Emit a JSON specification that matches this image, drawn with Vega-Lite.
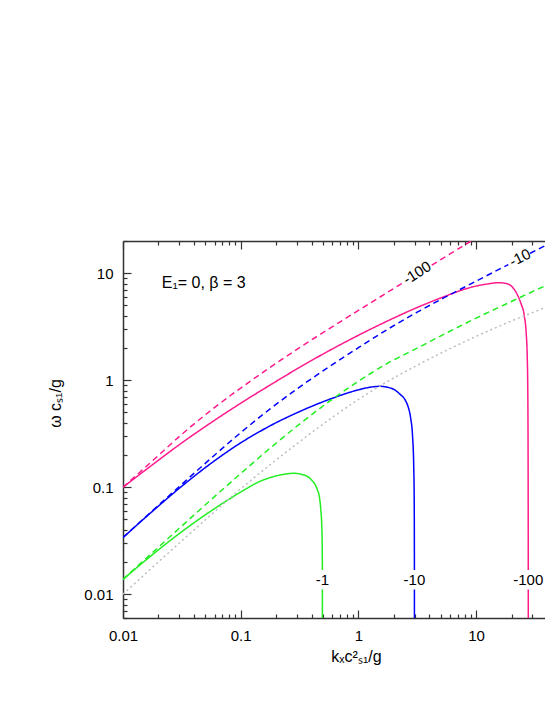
{
  "$schema": "https://vega.github.io/schema/vega-lite/v6.json",
  "autosize": {"type": "none"},
  "padding": {"left": 123, "top": 241, "right": 0, "bottom": 87},
  "width": 422,
  "height": 377,
  "background": "white",
  "config": {
    "view": {"stroke": null},
    "font": "Liberation Sans",
    "axis": {
      "domainColor": "#333333",
      "domainWidth": 1.5,
      "tickColor": "#333333",
      "tickWidth": 1.2,
      "labelFont": "Liberation Sans",
      "labelFontSize": 15,
      "labelColor": "#000000",
      "titleFont": "Liberation Sans",
      "titleFontWeight": "normal",
      "titleFontSize": 16,
      "titleColor": "#000000",
      "grid": false
    }
  },
  "datasets": {
    "curves": [
      {"E": "-100", "kind": "dashed", "part": 1, "k": 0.01, "w": 0.1},
      {"E": "-100", "kind": "dashed", "part": 1, "k": 0.01778, "w": 0.1762},
      {"E": "-100", "kind": "dashed", "part": 1, "k": 0.03162, "w": 0.3126},
      {"E": "-100", "kind": "dashed", "part": 1, "k": 0.05623, "w": 0.526},
      {"E": "-100", "kind": "dashed", "part": 1, "k": 0.1, "w": 0.8453},
      {"E": "-100", "kind": "dashed", "part": 1, "k": 0.1778, "w": 1.318},
      {"E": "-100", "kind": "dashed", "part": 1, "k": 0.3162, "w": 2.014},
      {"E": "-100", "kind": "dashed", "part": 1, "k": 0.5623, "w": 3.02},
      {"E": "-100", "kind": "dashed", "part": 1, "k": 1, "w": 4.487},
      {"E": "-100", "kind": "dashed", "part": 1, "k": 1.778, "w": 6.653},
      {"E": "-100", "kind": "dashed", "part": 1, "k": 2.41, "w": 8.18},
      {"E": "-100", "kind": "dashed", "part": 2, "k": 4.198, "w": 11.89},
      {"E": "-100", "kind": "dashed", "part": 2, "k": 6.31, "w": 15.67},
      {"E": "-100", "kind": "dashed", "part": 2, "k": 10, "w": 21.33},

      {"E": "-100", "kind": "solid", "part": 1, "k": 0.01, "w": 0.1},
      {"E": "-100", "kind": "solid", "part": 1, "k": 0.01778, "w": 0.1622},
      {"E": "-100", "kind": "solid", "part": 1, "k": 0.03162, "w": 0.26},
      {"E": "-100", "kind": "solid", "part": 1, "k": 0.05623, "w": 0.4027},
      {"E": "-100", "kind": "solid", "part": 1, "k": 0.1, "w": 0.6095},
      {"E": "-100", "kind": "solid", "part": 1, "k": 0.1778, "w": 0.9016},
      {"E": "-100", "kind": "solid", "part": 1, "k": 0.3162, "w": 1.318},
      {"E": "-100", "kind": "solid", "part": 1, "k": 0.5623, "w": 1.884},
      {"E": "-100", "kind": "solid", "part": 1, "k": 1, "w": 2.63},
      {"E": "-100", "kind": "solid", "part": 1, "k": 1.778, "w": 3.589},
      {"E": "-100", "kind": "solid", "part": 1, "k": 3.162, "w": 4.786},
      {"E": "-100", "kind": "solid", "part": 1, "k": 5.623, "w": 6.166},
      {"E": "-100", "kind": "solid", "part": 1, "k": 7.943, "w": 7.079},
      {"E": "-100", "kind": "solid", "part": 1, "k": 10, "w": 7.586},
      {"E": "-100", "kind": "solid", "part": 1, "k": 12.59, "w": 7.943},
      {"E": "-100", "kind": "solid", "part": 1, "k": 15.45, "w": 8.166},
      {"E": "-100", "kind": "solid", "part": 1, "k": 17.78, "w": 8.035},
      {"E": "-100", "kind": "solid", "part": 1, "k": 19.95, "w": 7.586},
      {"E": "-100", "kind": "solid", "part": 1, "k": 22.39, "w": 6.31},
      {"E": "-100", "kind": "solid", "part": 1, "k": 23.99, "w": 5.248},
      {"E": "-100", "kind": "solid", "part": 1, "k": 25.7, "w": 3.981},
      {"E": "-100", "kind": "solid", "part": 1, "k": 26.61, "w": 2.818},
      {"E": "-100", "kind": "solid", "part": 1, "k": 27.23, "w": 1.585},
      {"E": "-100", "kind": "solid", "part": 1, "k": 27.54, "w": 0.631},
      {"E": "-100", "kind": "solid", "part": 1, "k": 27.67, "w": 0.1585},
      {"E": "-100", "kind": "solid", "part": 1, "k": 27.73, "w": 0.0398},
      {"E": "-100", "kind": "solid", "part": 1, "k": 27.76, "w": 0.01683},
      {"E": "-100", "kind": "solid", "part": 2, "k": 27.76, "w": 0.0111},
      {"E": "-100", "kind": "solid", "part": 2, "k": 27.77, "w": 0.005},

      {"E": "-10", "kind": "dashed", "part": 1, "k": 0.01, "w": 0.03388},
      {"E": "-10", "kind": "dashed", "part": 1, "k": 0.01778, "w": 0.06026},
      {"E": "-10", "kind": "dashed", "part": 1, "k": 0.03162, "w": 0.1067},
      {"E": "-10", "kind": "dashed", "part": 1, "k": 0.05623, "w": 0.1875},
      {"E": "-10", "kind": "dashed", "part": 1, "k": 0.1, "w": 0.3236},
      {"E": "-10", "kind": "dashed", "part": 1, "k": 0.1778, "w": 0.5395},
      {"E": "-10", "kind": "dashed", "part": 1, "k": 0.3162, "w": 0.863},
      {"E": "-10", "kind": "dashed", "part": 1, "k": 0.5623, "w": 1.334},
      {"E": "-10", "kind": "dashed", "part": 1, "k": 1, "w": 2.014},
      {"E": "-10", "kind": "dashed", "part": 1, "k": 1.778, "w": 2.996},
      {"E": "-10", "kind": "dashed", "part": 1, "k": 3.162, "w": 4.325},
      {"E": "-10", "kind": "dashed", "part": 1, "k": 5.623, "w": 6.075},
      {"E": "-10", "kind": "dashed", "part": 1, "k": 10, "w": 8.433},
      {"E": "-10", "kind": "dashed", "part": 1, "k": 18.79, "w": 12.05},
      {"E": "-10", "kind": "dashed", "part": 2, "k": 28.71, "w": 15.31},
      {"E": "-10", "kind": "dashed", "part": 2, "k": 38.46, "w": 18.07},
      {"E": "-10", "kind": "dashed", "part": 2, "k": 44.67, "w": 19.68},

      {"E": "-10", "kind": "solid", "part": 1, "k": 0.01, "w": 0.03388},
      {"E": "-10", "kind": "solid", "part": 1, "k": 0.01778, "w": 0.05957},
      {"E": "-10", "kind": "solid", "part": 1, "k": 0.03162, "w": 0.1023},
      {"E": "-10", "kind": "solid", "part": 1, "k": 0.05623, "w": 0.1679},
      {"E": "-10", "kind": "solid", "part": 1, "k": 0.1, "w": 0.26},
      {"E": "-10", "kind": "solid", "part": 1, "k": 0.1459, "w": 0.3327},
      {"E": "-10", "kind": "solid", "part": 1, "k": 0.1778, "w": 0.375},
      {"E": "-10", "kind": "solid", "part": 1, "k": 0.3162, "w": 0.5093},
      {"E": "-10", "kind": "solid", "part": 1, "k": 0.5623, "w": 0.6607},
      {"E": "-10", "kind": "solid", "part": 1, "k": 1, "w": 0.8128},
      {"E": "-10", "kind": "solid", "part": 1, "k": 1.259, "w": 0.861},
      {"E": "-10", "kind": "solid", "part": 1, "k": 1.514, "w": 0.877},
      {"E": "-10", "kind": "solid", "part": 1, "k": 1.778, "w": 0.859},
      {"E": "-10", "kind": "solid", "part": 1, "k": 1.995, "w": 0.822},
      {"E": "-10", "kind": "solid", "part": 1, "k": 2.254, "w": 0.741},
      {"E": "-10", "kind": "solid", "part": 1, "k": 2.512, "w": 0.6457},
      {"E": "-10", "kind": "solid", "part": 1, "k": 2.655, "w": 0.5585},
      {"E": "-10", "kind": "solid", "part": 1, "k": 2.786, "w": 0.4365},
      {"E": "-10", "kind": "solid", "part": 1, "k": 2.884, "w": 0.302},
      {"E": "-10", "kind": "solid", "part": 1, "k": 2.951, "w": 0.1585},
      {"E": "-10", "kind": "solid", "part": 1, "k": 2.979, "w": 0.0794},
      {"E": "-10", "kind": "solid", "part": 1, "k": 2.989, "w": 0.0316},
      {"E": "-10", "kind": "solid", "part": 1, "k": 2.992, "w": 0.01683},
      {"E": "-10", "kind": "solid", "part": 2, "k": 2.992, "w": 0.0111},
      {"E": "-10", "kind": "solid", "part": 2, "k": 2.993, "w": 0.005},

      {"E": "-1", "kind": "dashed", "part": 1, "k": 0.01, "w": 0.01377},
      {"E": "-1", "kind": "dashed", "part": 1, "k": 0.01778, "w": 0.02449},
      {"E": "-1", "kind": "dashed", "part": 1, "k": 0.03162, "w": 0.04345},
      {"E": "-1", "kind": "dashed", "part": 1, "k": 0.05623, "w": 0.07674},
      {"E": "-1", "kind": "dashed", "part": 1, "k": 0.1, "w": 0.1343},
      {"E": "-1", "kind": "dashed", "part": 1, "k": 0.1778, "w": 0.2317},
      {"E": "-1", "kind": "dashed", "part": 1, "k": 0.3162, "w": 0.389},
      {"E": "-1", "kind": "dashed", "part": 1, "k": 0.5623, "w": 0.631},
      {"E": "-1", "kind": "dashed", "part": 1, "k": 1, "w": 0.9772},
      {"E": "-1", "kind": "dashed", "part": 1, "k": 1.778, "w": 1.445},
      {"E": "-1", "kind": "dashed", "part": 1, "k": 3.162, "w": 1.995},
      {"E": "-1", "kind": "dashed", "part": 1, "k": 5.623, "w": 2.77},
      {"E": "-1", "kind": "dashed", "part": 1, "k": 10, "w": 3.802},
      {"E": "-1", "kind": "dashed", "part": 1, "k": 17.78, "w": 5.129},
      {"E": "-1", "kind": "dashed", "part": 1, "k": 38.46, "w": 7.586},
      {"E": "-1", "kind": "dashed", "part": 1, "k": 44.67, "w": 8.128},

      {"E": "-1", "kind": "solid", "part": 1, "k": 0.01, "w": 0.01377},
      {"E": "-1", "kind": "solid", "part": 1, "k": 0.01778, "w": 0.02344},
      {"E": "-1", "kind": "solid", "part": 1, "k": 0.03162, "w": 0.03846},
      {"E": "-1", "kind": "solid", "part": 1, "k": 0.05623, "w": 0.06026},
      {"E": "-1", "kind": "solid", "part": 1, "k": 0.1, "w": 0.09016},
      {"E": "-1", "kind": "solid", "part": 1, "k": 0.1459, "w": 0.1135},
      {"E": "-1", "kind": "solid", "part": 1, "k": 0.1778, "w": 0.123},
      {"E": "-1", "kind": "solid", "part": 1, "k": 0.2239, "w": 0.1312},
      {"E": "-1", "kind": "solid", "part": 1, "k": 0.2818, "w": 0.1349},
      {"E": "-1", "kind": "solid", "part": 1, "k": 0.3548, "w": 0.1288},
      {"E": "-1", "kind": "solid", "part": 1, "k": 0.3981, "w": 0.1175},
      {"E": "-1", "kind": "solid", "part": 1, "k": 0.4467, "w": 0.0955},
      {"E": "-1", "kind": "solid", "part": 1, "k": 0.4677, "w": 0.0794},
      {"E": "-1", "kind": "solid", "part": 1, "k": 0.4786, "w": 0.0631},
      {"E": "-1", "kind": "solid", "part": 1, "k": 0.4898, "w": 0.0398},
      {"E": "-1", "kind": "solid", "part": 1, "k": 0.4932, "w": 0.0251},
      {"E": "-1", "kind": "solid", "part": 1, "k": 0.4943, "w": 0.01683},
      {"E": "-1", "kind": "solid", "part": 2, "k": 0.4943, "w": 0.0111},
      {"E": "-1", "kind": "solid", "part": 2, "k": 0.4945, "w": 0.005},

      {"E": "0", "kind": "dotted", "part": 1, "k": 0.01, "w": 0.01},
      {"E": "0", "kind": "dotted", "part": 1, "k": 0.03162, "w": 0.03162},
      {"E": "0", "kind": "dotted", "part": 1, "k": 0.05623, "w": 0.05559},
      {"E": "0", "kind": "dotted", "part": 1, "k": 0.1, "w": 0.09661},
      {"E": "0", "kind": "dotted", "part": 1, "k": 0.1778, "w": 0.1622},
      {"E": "0", "kind": "dotted", "part": 1, "k": 0.3162, "w": 0.2661},
      {"E": "0", "kind": "dotted", "part": 1, "k": 0.5623, "w": 0.4266},
      {"E": "0", "kind": "dotted", "part": 1, "k": 1, "w": 0.6607},
      {"E": "0", "kind": "dotted", "part": 1, "k": 1.778, "w": 0.9772},
      {"E": "0", "kind": "dotted", "part": 1, "k": 3.162, "w": 1.38},
      {"E": "0", "kind": "dotted", "part": 1, "k": 5.623, "w": 1.905},
      {"E": "0", "kind": "dotted", "part": 1, "k": 10, "w": 2.57},
      {"E": "0", "kind": "dotted", "part": 1, "k": 17.78, "w": 3.388},
      {"E": "0", "kind": "dotted", "part": 1, "k": 38.46, "w": 4.786},
      {"E": "0", "kind": "dotted", "part": 1, "k": 44.67, "w": 5.129}
    ],
    "labels": [
      {"label": "-1", "k": 0.4943, "w": 0.01355},
      {"label": "-10", "k": 2.992, "w": 0.01355},
      {"label": "-100", "k": 27.76, "w": 0.01355}
    ],
    "slope100": [{"label": "-100", "k": 3.15, "w": 10.07}],
    "slope10": [{"label": "-10", "k": 23.6, "w": 14.0}],
    "note": [{"label": "E₁= 0, β = 3", "k": 0.02133, "w": 8.12}]
  },
  "resolve": {"axis": {"x": "independent", "y": "independent"}},
  "layer": [
    {
      "data": {"name": "curves"},
      "mark": {"type": "line", "strokeWidth": 1.5, "clip": true, "interpolate": "monotone"},
      "encoding": {
        "x": {
          "field": "k", "type": "quantitative",
          "scale": {"type": "log", "domain": [0.01, 38.5], "nice": false, "zero": false},
          "axis": {
            "orient": "bottom",
            "values": [0.01,0.02,0.03,0.04,0.05,0.06,0.07,0.08,0.09,0.1,0.2,0.3,0.4,0.5,0.6,0.7,0.8,0.9,1,2,3,4,5,6,7,8,9,10,20,30],
            "labelExpr": "datum.value == 0.01 ? '0.01' : datum.value == 0.1 ? '0.1' : datum.value == 1 ? '1' : datum.value == 10 ? '10' : ''",
            "tickSize": {"condition": {"test": "indexof([0.01,0.1,1,10], datum.value) >= 0", "value": -8}, "value": -4},
            "labelPadding": 18,
            "labelFlush": false,
            "labelOverlap": false,
            "title": "kₓc²ₛ₁/g",
            "titleX": 233,
            "titleY": 43,
            "titleBaseline": "alphabetic"
          }
        },
        "y": {
          "field": "w", "type": "quantitative",
          "scale": {"type": "log", "domain": [0.006, 20], "nice": false, "zero": false},
          "axis": {
            "orient": "left",
            "values": [0.006,0.007,0.008,0.009,0.01,0.02,0.03,0.04,0.05,0.06,0.07,0.08,0.09,0.1,0.2,0.3,0.4,0.5,0.6,0.7,0.8,0.9,1,2,3,4,5,6,7,8,9,10,20],
            "labelExpr": "datum.value == 0.01 ? '0.01' : datum.value == 0.1 ? '0.1' : datum.value == 1 ? '1' : datum.value == 10 ? '10' : ''",
            "tickSize": {"condition": {"test": "indexof([0.01,0.1,1,10], datum.value) >= 0", "value": -8}, "value": -4},
            "labelPadding": 18,
            "labelFlush": false,
            "labelOverlap": false,
            "title": "ω cₛ₁/g",
            "titleX": -60,
            "titleY": 162,
            "titleAngle": 270,
            "titleAlign": "center",
            "titleBaseline": "bottom"
          }
        },
        "color": {
          "field": "E", "type": "nominal",
          "scale": {"domain": ["-100", "-10", "-1", "0"], "range": ["#ff1a8c", "#0000ff", "#22ee22", "#bdbdbd"]},
          "legend": null
        },
        "strokeDash": {
          "field": "kind", "type": "nominal",
          "scale": {"domain": ["solid", "dashed", "dotted"], "range": [[1, 0], [6, 4], [2, 3]]},
          "legend": null
        },
        "detail": {"field": "part", "type": "nominal"}
      }
    },
    {
      "data": {"name": "labels"},
      "mark": {"type": "text", "fontSize": 15, "align": "center", "baseline": "middle", "color": "#000000"},
      "encoding": {
        "x": {"field": "k", "type": "quantitative", "scale": {"type": "log", "domain": [0.01, 38.5], "nice": false, "zero": false}, "axis": null},
        "y": {"field": "w", "type": "quantitative", "scale": {"type": "log", "domain": [0.006, 20], "nice": false, "zero": false}, "axis": null},
        "text": {"field": "label"}
      }
    },
    {
      "data": {"name": "slope100"},
      "mark": {"type": "text", "fontSize": 15, "align": "center", "baseline": "middle", "angle": -32, "color": "#000000"},
      "encoding": {
        "x": {"field": "k", "type": "quantitative", "scale": {"type": "log", "domain": [0.01, 38.5], "nice": false, "zero": false}, "axis": null},
        "y": {"field": "w", "type": "quantitative", "scale": {"type": "log", "domain": [0.006, 20], "nice": false, "zero": false}, "axis": null},
        "text": {"field": "label"}
      }
    },
    {
      "data": {"name": "slope10"},
      "mark": {"type": "text", "fontSize": 15, "align": "center", "baseline": "middle", "angle": -27, "color": "#000000"},
      "encoding": {
        "x": {"field": "k", "type": "quantitative", "scale": {"type": "log", "domain": [0.01, 38.5], "nice": false, "zero": false}, "axis": null},
        "y": {"field": "w", "type": "quantitative", "scale": {"type": "log", "domain": [0.006, 20], "nice": false, "zero": false}, "axis": null},
        "text": {"field": "label"}
      }
    },
    {
      "data": {"name": "note"},
      "mark": {"type": "text", "fontSize": 16, "align": "left", "baseline": "middle", "color": "#000000"},
      "encoding": {
        "x": {
          "field": "k", "type": "quantitative",
          "scale": {"type": "log", "domain": [0.01, 38.5], "nice": false, "zero": false},
          "axis": {
            "orient": "top",
            "values": [0.01,0.02,0.03,0.04,0.05,0.06,0.07,0.08,0.09,0.1,0.2,0.3,0.4,0.5,0.6,0.7,0.8,0.9,1,2,3,4,5,6,7,8,9,10,20,30],
            "labels": false,
            "title": null,
            "tickSize": {"condition": {"test": "indexof([0.01,0.1,1,10], datum.value) >= 0", "value": -8}, "value": -4}
          }
        },
        "y": {"field": "w", "type": "quantitative", "scale": {"type": "log", "domain": [0.006, 20], "nice": false, "zero": false}, "axis": null},
        "text": {"field": "label"}
      }
    }
  ]
}
